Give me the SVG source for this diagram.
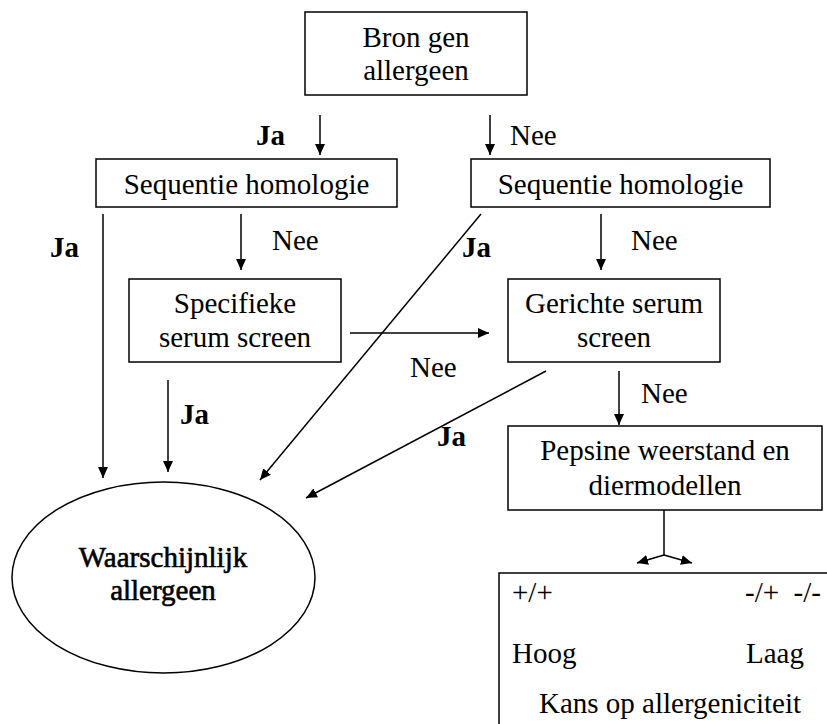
<svg xmlns="http://www.w3.org/2000/svg" width="827" height="724" viewBox="0 0 827 724">
<defs>
<style>
.box{fill:#fff;stroke:#000;stroke-width:1.5}
.t{font-family:"Liberation Serif","Times New Roman",Times,serif;font-size:29px;fill:#000}
.c{text-anchor:middle}
.b{font-weight:bold}
.hv{stroke:#000;stroke-width:0.6}
.ln{stroke:#000;stroke-width:1.5;fill:none}
.ar{stroke:#000;stroke-width:1.5;fill:none;marker-end:url(#ah)}
</style>
<marker id="ah" markerUnits="userSpaceOnUse" markerWidth="12" markerHeight="10" refX="11" refY="5" orient="auto">
<path d="M0,0 L11,5 L0,10 Z" fill="#000"/>
</marker>
</defs>
<rect width="827" height="724" fill="#fff"/>

<g id="bron">
<rect class="box" x="305" y="12" width="222" height="83"/>
<text class="t c" x="416" y="47" font-family="Liberation Serif, serif">Bron gen</text>
<text class="t c" x="416" y="80" font-family="Liberation Serif, serif">allergeen</text>
</g>

<g id="seq-left">
<rect class="box" x="96" y="159" width="301" height="48"/>
<text class="t c" x="246.5" y="194">Sequentie homologie</text>
</g>

<g id="seq-right">
<rect class="box" x="471" y="159" width="299" height="48"/>
<text class="t c" x="620.5" y="194">Sequentie homologie</text>
</g>

<g id="specifieke">
<rect class="box" x="129" y="279" width="212" height="83"/>
<text class="t c" x="235" y="313">Specifieke</text>
<text class="t c" x="235" y="347">serum screen</text>
</g>

<g id="gerichte">
<rect class="box" x="508" y="279" width="212" height="83"/>
<text class="t c" x="614" y="313">Gerichte serum</text>
<text class="t c" x="614" y="347">screen</text>
</g>

<g id="pepsine">
<rect class="box" x="508" y="426" width="314" height="84"/>
<text class="t c" x="665" y="460">Pepsine weerstand en</text>
<text class="t c" x="665" y="495">diermodellen</text>
</g>

<g id="waarschijnlijk">
<ellipse class="box" cx="163.5" cy="577.5" rx="151.5" ry="95.5"/>
<text class="t c hv" x="163" y="567">Waarschijnlijk</text>
<text class="t c hv" x="163" y="600">allergeen</text>
</g>

<g id="kans">
<rect class="box" x="499" y="573" width="360" height="200"/>
<text class="t" x="512" y="602">+/+</text>
<text class="t" x="821" y="602" text-anchor="end" xml:space="preserve">-/+  -/-</text>
<text class="t" x="512" y="663">Hoog</text>
<text class="t" x="746" y="663">Laag</text>
<text class="t" x="539" y="713">Kans op allergeniciteit</text>
</g>

<g id="connectors">
<line class="ar" x1="320" y1="115" x2="320" y2="155"/>
<line class="ar" x1="490" y1="115" x2="490" y2="155"/>
<line class="ar" x1="103" y1="214" x2="103" y2="478"/>
<line class="ar" x1="241" y1="214" x2="241" y2="270"/>
<line class="ar" x1="601" y1="214" x2="601" y2="270"/>
<line class="ar" x1="481" y1="214" x2="260" y2="480"/>
<line class="ar" x1="350" y1="333" x2="489" y2="333"/>
<line class="ar" x1="168" y1="380" x2="168" y2="472"/>
<line class="ar" x1="546" y1="371" x2="306" y2="498"/>
<line class="ar" x1="619" y1="371" x2="619" y2="425"/>
<line class="ln" x1="664" y1="510" x2="664" y2="555"/>
<line class="ar" x1="664" y1="555" x2="637" y2="563"/>
<line class="ar" x1="664" y1="555" x2="692" y2="563"/>
</g>

<g id="labels">
<text class="t b" x="256" y="145">Ja</text>
<text class="t" x="510" y="145">Nee</text>
<text class="t b" x="50" y="257">Ja</text>
<text class="t" x="272" y="250">Nee</text>
<text class="t b" x="462" y="257">Ja</text>
<text class="t" x="631" y="250">Nee</text>
<text class="t" x="410" y="377">Nee</text>
<text class="t b" x="180" y="424">Ja</text>
<text class="t b" x="437" y="446">Ja</text>
<text class="t" x="641" y="403">Nee</text>
</g>
</svg>
